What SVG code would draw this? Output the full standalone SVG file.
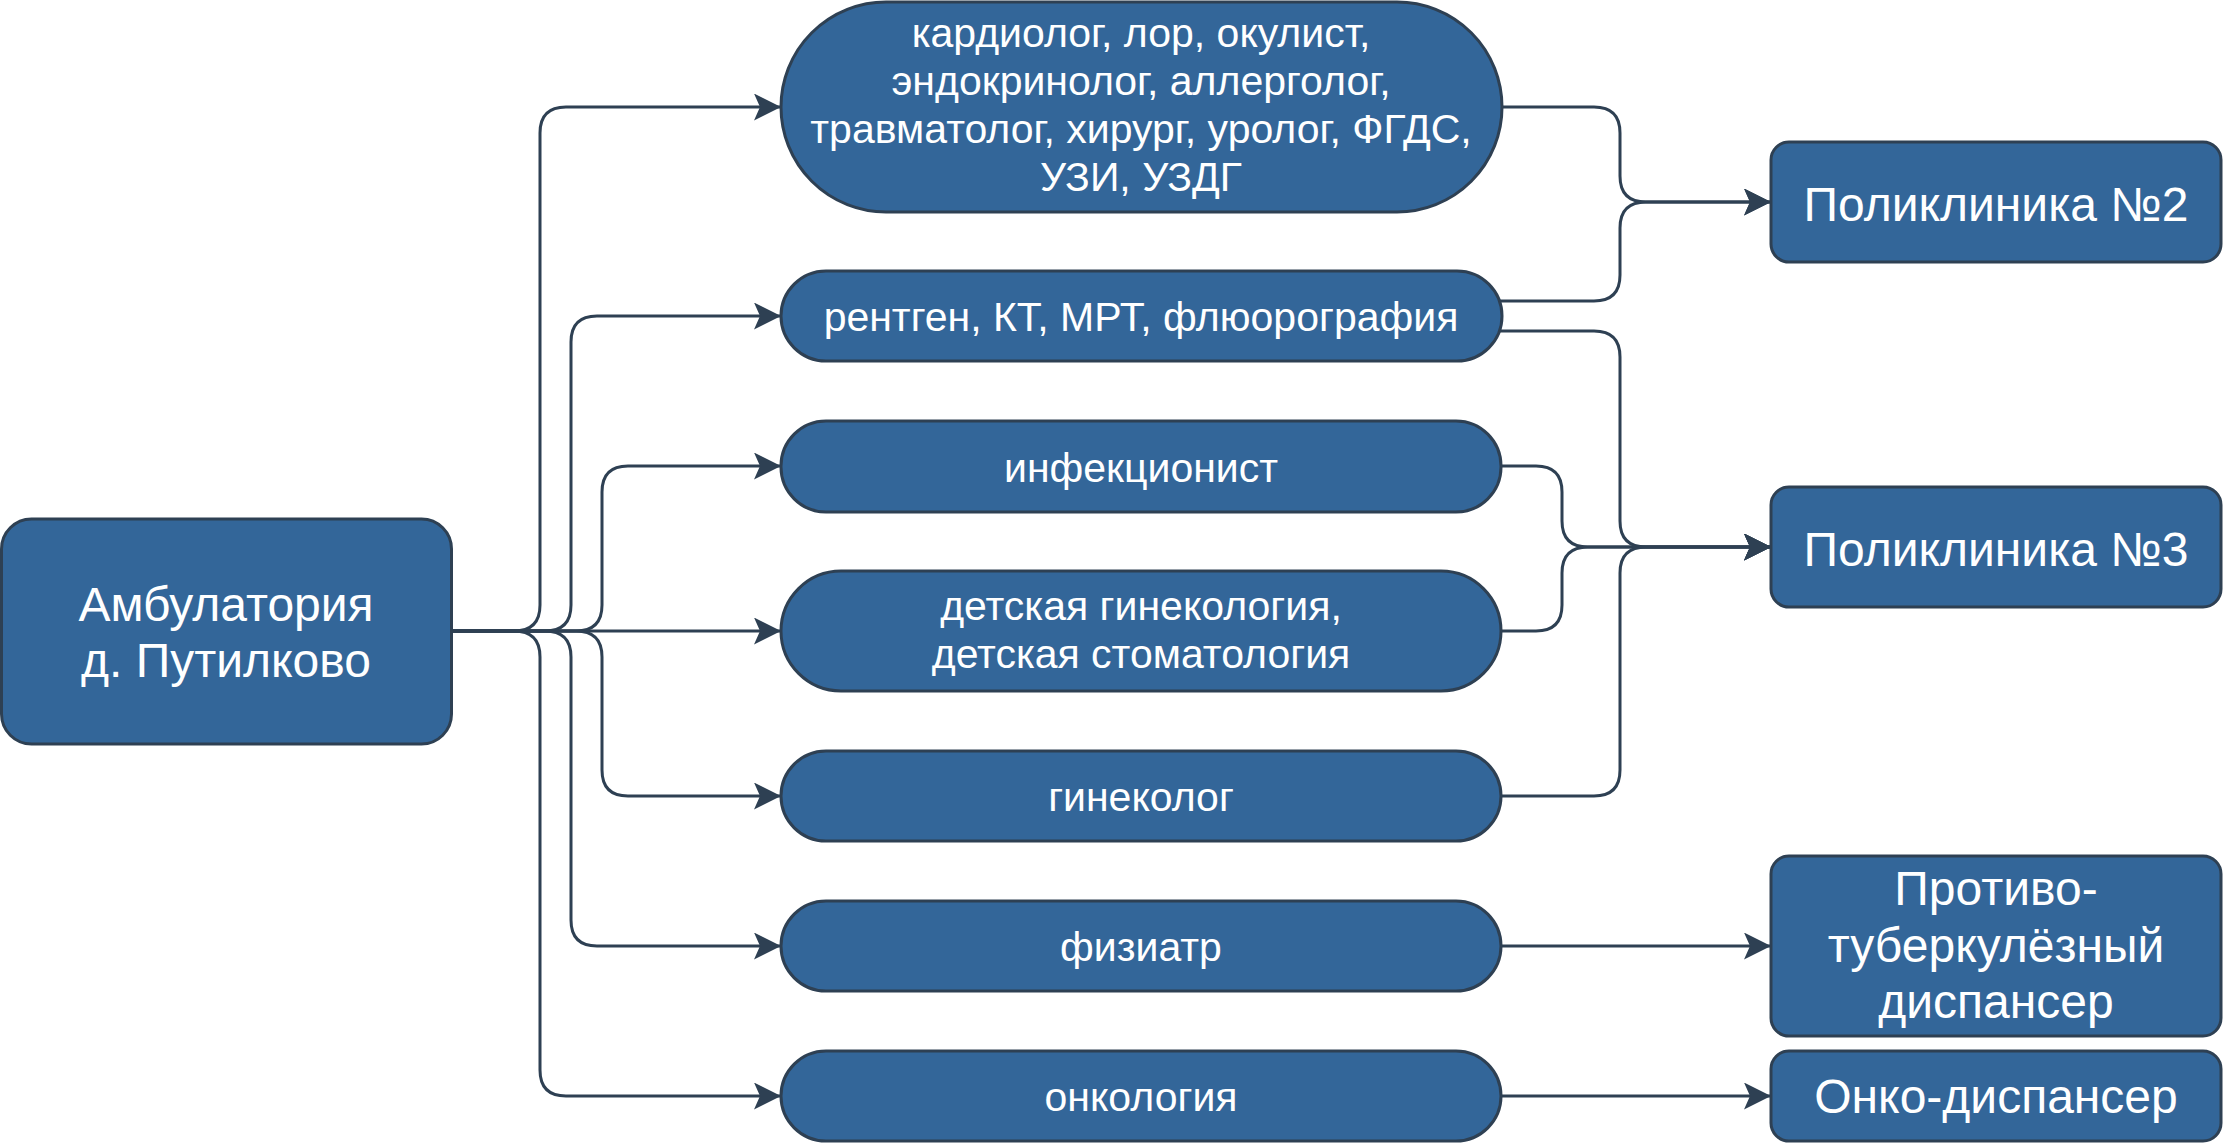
<svg xmlns="http://www.w3.org/2000/svg" width="2223" height="1143" viewBox="0 0 2223 1143">
<defs>
<style>
.n{fill:#336699;stroke:#2E4053;stroke-width:3}
.t{fill:#ffffff;font-family:"Liberation Sans",Arial,sans-serif;text-anchor:middle}
.s40{font-size:41px}
.s48{font-size:48px}
.e{fill:none;stroke:#2E4053;stroke-width:3}
</style>
<marker id="arr" markerUnits="userSpaceOnUse" viewBox="0 0 27 27" markerWidth="27" markerHeight="27" refX="27" refY="13.5" orient="auto">
<path d="M0 0 L27 13.5 L0 27 L6 13.5 Z" fill="#2E4053"/>
</marker>
</defs>
<rect width="2223" height="1143" fill="#ffffff"/>
<g id="connectors">
<path class="e" marker-end="url(#arr)" d="M451 631 H514 Q540 631 540 605 V133 Q540 107 566 107 H781"/>
<path class="e" marker-end="url(#arr)" d="M451 631 H545 Q571 631 571 605 V342 Q571 316 597 316 H781"/>
<path class="e" marker-end="url(#arr)" d="M451 631 H576 Q602 631 602 605 V492 Q602 466 628 466 H781"/>
<path class="e" marker-end="url(#arr)" d="M451 631 H781"/>
<path class="e" marker-end="url(#arr)" d="M451 631 H576 Q602 631 602 657 V770 Q602 796 628 796 H781"/>
<path class="e" marker-end="url(#arr)" d="M451 631 H545 Q571 631 571 657 V920 Q571 946 597 946 H781"/>
<path class="e" marker-end="url(#arr)" d="M451 631 H514 Q540 631 540 657 V1070 Q540 1096 566 1096 H781"/>
<path class="e" marker-end="url(#arr)" d="M1502 107 H1594 Q1620 107 1620 133 V176 Q1620 202 1646 202 H1771"/>
<path class="e" marker-end="url(#arr)" d="M1500 301 H1594 Q1620 301 1620 275 V228 Q1620 202 1646 202 H1771"/>
<path class="e" marker-end="url(#arr)" d="M1500 331 H1594 Q1620 331 1620 357 V521 Q1620 547 1646 547 H1771"/>
<path class="e" marker-end="url(#arr)" d="M1501 466 H1536 Q1562 466 1562 492 V521 Q1562 547 1588 547 H1771"/>
<path class="e" marker-end="url(#arr)" d="M1501 631 H1536 Q1562 631 1562 605 V573 Q1562 547 1588 547 H1771"/>
<path class="e" marker-end="url(#arr)" d="M1501 796 H1594 Q1620 796 1620 770 V573 Q1620 547 1646 547 H1771"/>
<path class="e" marker-end="url(#arr)" d="M1501 946 H1771"/>
<path class="e" marker-end="url(#arr)" d="M1501 1096 H1771"/>
</g>
<g id="ambulatoria">
<rect class="n" x="1.5" y="519" width="450" height="225" rx="30"/>
<text class="t s48" x="226" y="621">Амбулатория</text>
<text class="t s48" x="226" y="677">д. Путилково</text>
</g>
<g id="specialists">
<rect class="n" x="781" y="2" width="721" height="210" rx="105"/>
<text class="t s40" x="1141" y="47">кардиолог, лор, окулист,</text>
<text class="t s40" x="1141" y="95">эндокринолог, аллерголог,</text>
<text class="t s40" x="1141" y="143">травматолог, хирург, уролог, ФГДС,</text>
<text class="t s40" x="1141" y="191">УЗИ, УЗДГ</text>
</g>
<g id="xray">
<rect class="n" x="781" y="271" width="721" height="90" rx="45"/>
<text class="t s40" x="1141" y="331">рентген, КТ, МРТ, флюорография</text>
</g>
<g id="infect">
<rect class="n" x="781" y="421" width="720" height="91" rx="45"/>
<text class="t s40" x="1141" y="482">инфекционист</text>
</g>
<g id="children">
<rect class="n" x="781" y="571" width="720" height="120" rx="60"/>
<text class="t s40" x="1141" y="620">детская гинекология,</text>
<text class="t s40" x="1141" y="668">детская стоматология</text>
</g>
<g id="gyn">
<rect class="n" x="781" y="751" width="720" height="90" rx="45"/>
<text class="t s40" x="1141" y="811">гинеколог</text>
</g>
<g id="phthisio">
<rect class="n" x="781" y="901" width="720" height="90" rx="45"/>
<text class="t s40" x="1141" y="961">физиатр</text>
</g>
<g id="onco">
<rect class="n" x="781" y="1051" width="720" height="90" rx="45"/>
<text class="t s40" x="1141" y="1111">онкология</text>
</g>
<g id="poly2">
<rect class="n" x="1771" y="142" width="450" height="120" rx="18"/>
<text class="t s48" x="1996" y="221">Поликлиника №2</text>
</g>
<g id="poly3">
<rect class="n" x="1771" y="487" width="450" height="120" rx="18"/>
<text class="t s48" x="1996" y="566">Поликлиника №3</text>
</g>
<g id="tb">
<rect class="n" x="1771" y="856" width="450" height="180" rx="18"/>
<text class="t s48" x="1996" y="905">Противо-</text>
<text class="t s48" x="1996" y="962">туберкулёзный</text>
<text class="t s48" x="1996" y="1018">диспансер</text>
</g>
<g id="oncodisp">
<rect class="n" x="1771" y="1051" width="450" height="90" rx="18"/>
<text class="t s48" x="1996" y="1113">Онко-диспансер</text>
</g>
</svg>
